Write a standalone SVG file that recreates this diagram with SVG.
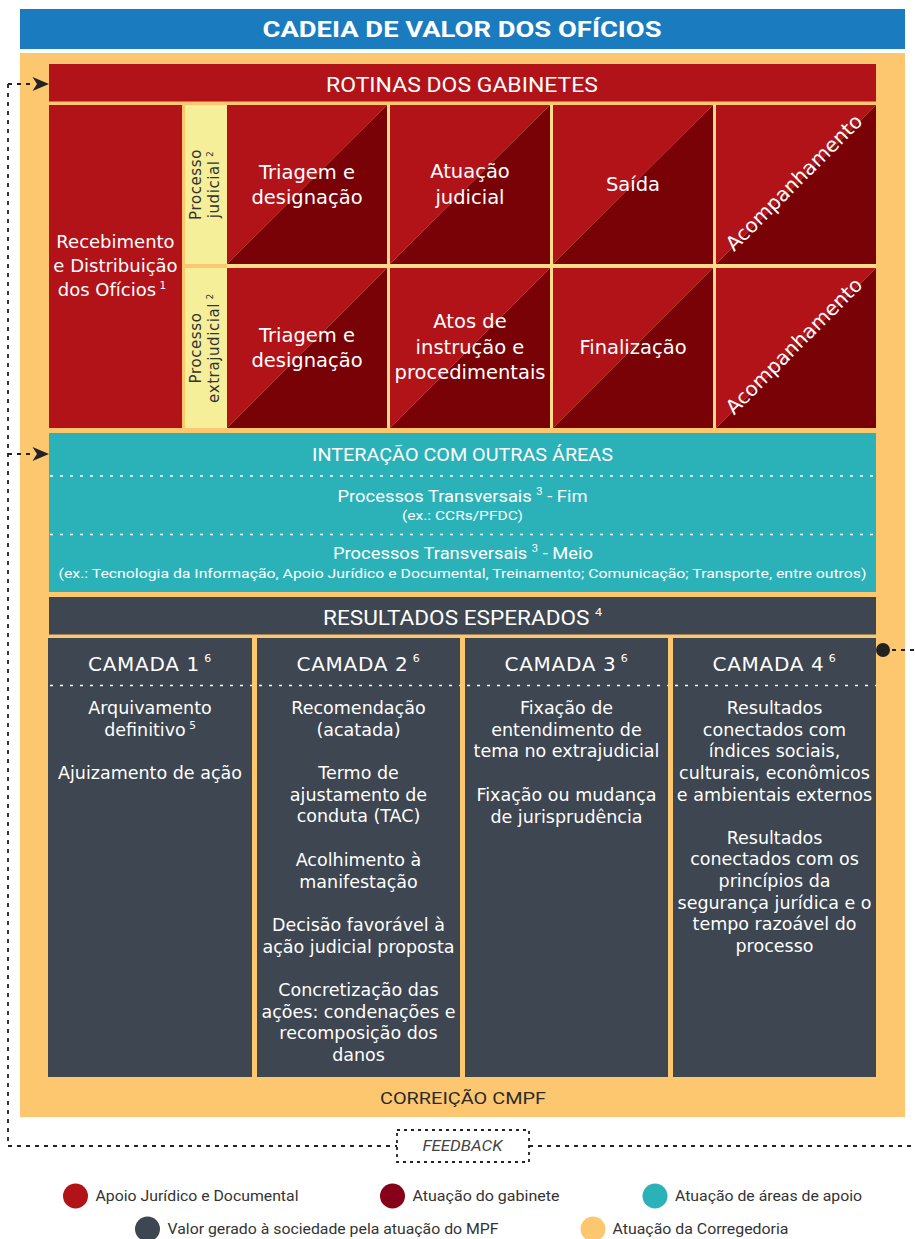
<svg xmlns="http://www.w3.org/2000/svg" width="915" height="1239" viewBox="0 0 915 1239">
<style>
.o{font-family:"DejaVu Sans","Open Sans",sans-serif;fill:#fff;text-anchor:middle}
.c{font-family:Roboto,"Open Sans",sans-serif;fill:#fff;text-anchor:middle}
.lt{fill:#b11319}
.dk{fill:#790206}
.wd{stroke:#fff;stroke-width:1.5;stroke-dasharray:3 7;fill:none}
.fb{stroke:#222;stroke-width:1.8;stroke-dasharray:4 5;fill:none}
.cell{font-size:19.5px}
.body{font-size:17.5px}
.hd{font-size:20px;letter-spacing:0.7px}
.yl{font-family:"DejaVu Sans","Open Sans",sans-serif;fill:#333;font-size:15px;letter-spacing:0.6px;text-anchor:middle}
.lg{font-family:Roboto,"Open Sans",sans-serif;fill:#333;font-size:14.5px}
</style>
<defs>
<path id="ah" d="M16.5 0 L0 -7 L4.5 0 L0 7 Z" fill="#222"/>
</defs>
<rect width="915" height="1239" fill="#fff"/>

<g id="title">
<rect x="20" y="9" width="885" height="40" fill="#1a7bbf"/>
<text class="c" x="462" y="37" font-size="22.5" font-weight="bold" textLength="399" lengthAdjust="spacingAndGlyphs">CADEIA DE VALOR DOS OFÍCIOS</text>
</g>

<g id="corregedoria">
<rect x="20" y="53" width="885" height="1064" fill="#fdc76f"/>
<text class="c" x="463" y="1103.5" font-size="16.5" style="fill:#2b2b2b" textLength="166" lengthAdjust="spacingAndGlyphs">CORREIÇÃO CMPF</text>
</g>

<g id="rotinas-header">
<rect x="49" y="64" width="827" height="37.5" fill="#b11319"/>
<text class="c" x="462" y="92.3" font-size="21" textLength="272" lengthAdjust="spacingAndGlyphs">ROTINAS DOS GABINETES</text>
</g>

<rect x="227" y="105" width="649" height="323" fill="#fddc86"/>

<g id="recebimento">
<rect x="49" y="105" width="133" height="323" fill="#b11319"/>
<text class="o" font-size="18"><tspan x="115.5" y="248">Recebimento</tspan><tspan x="115.5" y="272">e Distribuição</tspan><tspan x="112" y="296">dos Ofícios<tspan font-size="10.5" dy="-7.5"> 1</tspan></tspan></text>
</g>

<g id="processo-judicial">
<rect x="185" y="105" width="42" height="159" fill="#f6ef9a"/>
<text class="yl" transform="translate(185 184.5) rotate(-90)"><tspan x="0" y="16">Processo</tspan><tspan x="0" y="33.5">judicial<tspan font-size="9" dy="-6"> 2</tspan></tspan></text>
</g>

<g id="processo-extrajudicial">
<rect x="185" y="268" width="42" height="160" fill="#f6ef9a"/>
<text class="yl" transform="translate(185 348) rotate(-90)"><tspan x="0" y="16">Processo</tspan><tspan x="0" y="33.5">extrajudicial<tspan font-size="9" dy="-6"> 2</tspan></tspan></text>
</g>

<g id="triagem-judicial">
<polygon class="lt" points="227,105 387,105 227,264"/>
<polygon class="dk" points="387,105 387,264 227,264"/>
<text class="o cell"><tspan x="307" y="179">Triagem e</tspan><tspan x="307" y="204">designação</tspan></text>
</g>
<g id="atuacao-judicial">
<polygon class="lt" points="390,105 550,105 390,264"/>
<polygon class="dk" points="550,105 550,264 390,264"/>
<text class="o cell"><tspan x="470" y="178">Atuação</tspan><tspan x="470" y="204">judicial</tspan></text>
</g>
<g id="saida">
<polygon class="lt" points="553,105 713,105 553,264"/>
<polygon class="dk" points="713,105 713,264 553,264"/>
<text class="o cell" x="633" y="191">Saída</text>
</g>
<g id="acompanhamento-judicial">
<polygon class="lt" points="716,105 876,105 716,264"/>
<polygon class="dk" points="876,105 876,264 716,264"/>
<text class="o" font-size="20" transform="translate(796 184.5) rotate(-45)" x="0" y="4">Acompanhamento</text>
</g>

<g id="triagem-extrajudicial">
<polygon class="lt" points="227,268 387,268 227,428"/>
<polygon class="dk" points="387,268 387,428 227,428"/>
<text class="o cell"><tspan x="307" y="342">Triagem e</tspan><tspan x="307" y="367">designação</tspan></text>
</g>
<g id="atos-instrucao">
<polygon class="lt" points="390,268 550,268 390,428"/>
<polygon class="dk" points="550,268 550,428 390,428"/>
<text class="o cell"><tspan x="470" y="328">Atos de</tspan><tspan x="470" y="354">instrução e</tspan><tspan x="470" y="379">procedimentais</tspan></text>
</g>
<g id="finalizacao">
<polygon class="lt" points="553,268 713,268 553,428"/>
<polygon class="dk" points="713,268 713,428 553,428"/>
<text class="o cell" x="633" y="354">Finalização</text>
</g>
<g id="acompanhamento-extrajudicial">
<polygon class="lt" points="716,268 876,268 716,428"/>
<polygon class="dk" points="876,268 876,428 716,428"/>
<text class="o" font-size="20" transform="translate(796 348) rotate(-45)" x="0" y="4">Acompanhamento</text>
</g>

<g id="interacao">
<rect x="49" y="433" width="827" height="159" fill="#2bb2b9"/>
<text class="c" x="462.5" y="461" font-size="17.5" textLength="301" lengthAdjust="spacingAndGlyphs">INTERAÇÃO COM OUTRAS ÁREAS</text>
<line class="wd" x1="50" y1="476" x2="876" y2="476"/>
<text class="c" x="462.5" y="502" font-size="16.5" textLength="250" lengthAdjust="spacingAndGlyphs">Processos Transversais <tspan font-size="10" dy="-7">3</tspan><tspan dy="7"> - Fim</tspan></text>
<text class="c" x="462.5" y="520" font-size="12.5" textLength="121" lengthAdjust="spacingAndGlyphs">(ex.: CCRs/PFDC)</text>
<line class="wd" x1="50" y1="534.5" x2="876" y2="534.5"/>
<text class="c" x="463" y="559" font-size="16.5" textLength="260" lengthAdjust="spacingAndGlyphs">Processos Transversais <tspan font-size="10" dy="-7">3</tspan><tspan dy="7"> - Meio</tspan></text>
<text class="c" x="462.5" y="577.5" font-size="13" textLength="808" lengthAdjust="spacingAndGlyphs">(ex.: Tecnologia da Informação, Apoio Jurídico e Documental, Treinamento; Comunicação; Transporte, entre outros)</text>
</g>

<g id="resultados-header">
<rect x="49" y="597" width="827" height="37.5" fill="#3e4651"/>
<text class="c" x="462.5" y="625" font-size="20" textLength="279" lengthAdjust="spacingAndGlyphs">RESULTADOS ESPERADOS <tspan font-size="11" dy="-9">4</tspan></text>
</g>

<g id="camada1">
<rect x="48" y="638" width="204" height="439" fill="#3e4651"/>
<text class="o hd" x="150" y="671">CAMADA 1<tspan font-size="11" dy="-9"> 6</tspan></text>
<line class="wd" x1="50" y1="685.5" x2="252" y2="685.5"/>
<text class="o body"><tspan x="150" y="714">Arquivamento</tspan><tspan x="150" y="735.7">definitivo<tspan font-size="10.5" dy="-7"> 5</tspan></tspan><tspan x="150" y="779">Ajuizamento de ação</tspan></text>
</g>

<g id="camada2">
<rect x="257" y="638" width="203" height="439" fill="#3e4651"/>
<text class="o hd" x="358.5" y="671">CAMADA 2<tspan font-size="11" dy="-9"> 6</tspan></text>
<line class="wd" x1="259" y1="685.5" x2="460" y2="685.5"/>
<text class="o body"><tspan x="358.5" y="714">Recomendação</tspan><tspan x="358.5" y="735.7">(acatada)</tspan><tspan x="358.5" y="779">Termo de</tspan><tspan x="358.5" y="800.7">ajustamento de</tspan><tspan x="358.5" y="822.4">conduta (TAC)</tspan><tspan x="358.5" y="865.8">Acolhimento à</tspan><tspan x="358.5" y="887.5">manifestação</tspan><tspan x="358.5" y="930.9">Decisão favorável à</tspan><tspan x="358.5" y="952.6">ação judicial proposta</tspan><tspan x="358.5" y="996">Concretização das</tspan><tspan x="358.5" y="1017.7">ações: condenações e</tspan><tspan x="358.5" y="1039.4">recomposição dos</tspan><tspan x="358.5" y="1061.1">danos</tspan></text>
</g>

<g id="camada3">
<rect x="465" y="638" width="203" height="439" fill="#3e4651"/>
<text class="o hd" x="566.5" y="671">CAMADA 3<tspan font-size="11" dy="-9"> 6</tspan></text>
<line class="wd" x1="467" y1="685.5" x2="668" y2="685.5"/>
<text class="o body"><tspan x="566.5" y="714">Fixação de</tspan><tspan x="566.5" y="735.7">entendimento de</tspan><tspan x="566.5" y="757.4">tema no extrajudicial</tspan><tspan x="566.5" y="800.8">Fixação ou mudança</tspan><tspan x="566.5" y="822.5">de jurisprudência</tspan></text>
</g>

<g id="camada4">
<rect x="673" y="638" width="203" height="439" fill="#3e4651"/>
<text class="o hd" x="774.5" y="671">CAMADA 4<tspan font-size="11" dy="-9"> 6</tspan></text>
<line class="wd" x1="675" y1="685.5" x2="876" y2="685.5"/>
<text class="o body"><tspan x="774.5" y="714">Resultados</tspan><tspan x="774.5" y="735.7">conectados com</tspan><tspan x="774.5" y="757.4">índices sociais,</tspan><tspan x="774.5" y="779.1">culturais, econômicos</tspan><tspan x="774.5" y="800.8">e ambientais externos</tspan><tspan x="774.5" y="843.6">Resultados</tspan><tspan x="774.5" y="865.3">conectados com os</tspan><tspan x="774.5" y="887">princípios da</tspan><tspan x="774.5" y="908.7">segurança jurídica e o</tspan><tspan x="774.5" y="930.4">tempo razoável do</tspan><tspan x="774.5" y="952.1">processo</tspan></text>
</g>

<g id="feedback">
<rect x="397" y="1130" width="132" height="32" fill="none" stroke="#222" stroke-width="1.8" stroke-dasharray="3 4"/>
<text x="462.5" y="1151" font-family="Roboto,'Open Sans',sans-serif" font-style="italic" font-size="15" fill="#444" text-anchor="middle" textLength="80" lengthAdjust="spacingAndGlyphs">FEEDBACK</text>
</g>

<g id="connectors">
<path class="fb" d="M8 84 V1146 H397"/>
<path class="fb" d="M529 1146 H915"/>
<path class="fb" d="M8 84 H33"/>
<path class="fb" d="M8 454 H33"/>
<use href="#ah" x="32.5" y="84"/>
<use href="#ah" x="32.5" y="454"/>
<circle cx="883" cy="650" r="7" fill="#222"/>
<path class="fb" d="M892 650 H915"/>
</g>

<g id="legend">
<g id="leg-apoio"><circle cx="75.5" cy="1196" r="12.5" fill="#b11319"/><text class="lg" x="95.5" y="1200.5" textLength="203" lengthAdjust="spacingAndGlyphs">Apoio Jurídico e Documental</text></g>
<g id="leg-gabinete"><circle cx="392.5" cy="1196" r="12.5" fill="#850018"/><text class="lg" x="412.5" y="1200.5" textLength="147" lengthAdjust="spacingAndGlyphs">Atuação do gabinete</text></g>
<g id="leg-areas"><circle cx="655" cy="1196" r="12.5" fill="#2bb2b9"/><text class="lg" x="675" y="1200.5" textLength="187" lengthAdjust="spacingAndGlyphs">Atuação de áreas de apoio</text></g>
<g id="leg-valor"><circle cx="147.5" cy="1229" r="12.5" fill="#3e4651"/><text class="lg" x="167.5" y="1234" textLength="331" lengthAdjust="spacingAndGlyphs">Valor gerado à sociedade pela atuação do MPF</text></g>
<g id="leg-corregedoria"><circle cx="593" cy="1229" r="12.5" fill="#fdc76f"/><text class="lg" x="612.5" y="1234" textLength="176" lengthAdjust="spacingAndGlyphs">Atuação da Corregedoria</text></g>
</g>
</svg>
